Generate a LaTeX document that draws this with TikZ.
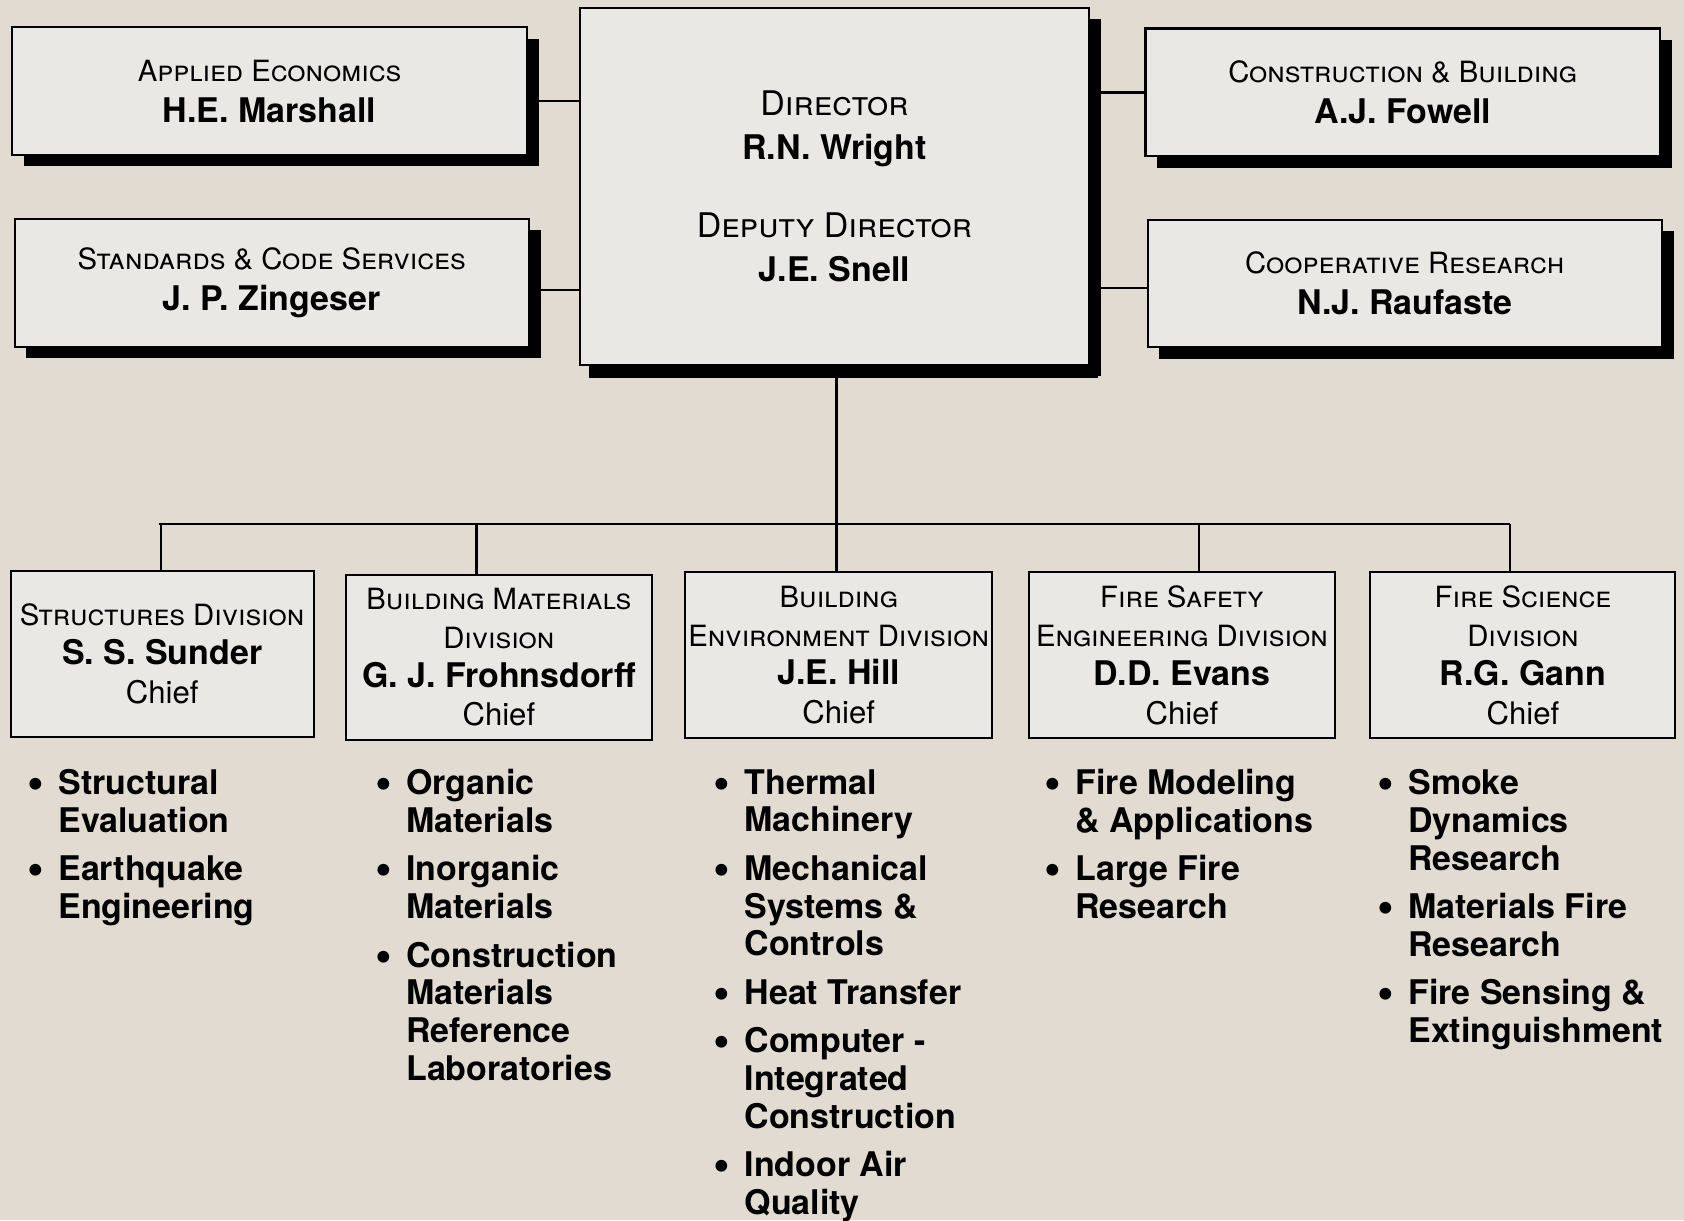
\documentclass[tikz,border=0pt]{standalone}
\usepackage{fontspec}
\setmainfont{TeX Gyre Heros}
\usetikzlibrary{positioning, shadows}

\definecolor{paper}{RGB}{226,219,209}
\definecolor{card}{RGB}{234,232,229}

\newcommand\unitttl[1]{{\fontsize{15.5}{20}\selectfont\scshape #1}}
\newcommand\bossttl[1]{{\fontsize{18}{23}\selectfont\scshape #1}}
\newcommand\who[1]{{\bfseries #1}}
\newcommand\chf{{\fontsize{16.5}{20}\selectfont Chief}}
\newcommand\itm{\llap{\raisebox{-0.12em}{\scalebox{1.4}{\textbullet}}\hspace{0.42em}}}

\begin{document}
\begin{tikzpicture}[
        x=0.02cm, y=0.02cm,
        link/.style={line width=1.3pt},
        boxbase/.style={rectangle, draw=black, line width=1.1pt, fill=card, inner sep=0pt, align=center, font=\fontsize{18}{21.5}\selectfont},
        topbox/.style={boxbase, minimum width=9.58cm, minimum height=2.38cm,
          drop shadow={shadow xshift=0.22cm, shadow yshift=-0.21cm, fill=black, opacity=1}},
        divbox/.style={boxbase, minimum height=3.08cm, font=\fontsize{18}{20.6}\selectfont},
        list/.style={anchor=north west, align=left, inner sep=0pt, font=\fontsize{18}{20}\selectfont\bfseries},
      ]

        \fill[paper] (0,0) rectangle (1568,-1136);
        \useasboundingbox (0,0) rectangle (1568,-1136);

        % staff offices and director
        \node[topbox] (ae)  at (251,-85)    {\unitttl{Applied Economics}\\\who{H.E. Marshall}};
        \node[topbox] (scs) at (253,-263.5) {\unitttl{Standards \& Code Services}\\\who{J. P. Zingeser}};
        \node[topbox, minimum width=9.48cm, minimum height=6.66cm,
              font=\fontsize{18}{23}\selectfont,
              drop shadow={shadow xshift=0.17cm, shadow yshift=-0.24cm, fill=black, opacity=1}]
              (dir) at (777,-173.5) {\bossttl{Director}\\\who{R.N. Wright}\\[0.66cm]\bossttl{Deputy Director}\\\who{J.E. Snell}};
        \node[topbox] (cb)  at (1306,-86)   {\unitttl{Construction \& Building}\\\who{A.J. Fowell}};
        \node[topbox] (cr)  at (1308,-264)  {\unitttl{Cooperative Research}\\\who{N.J. Raufaste}};

        \draw[link] ([yshift=-0.18cm]ae.east)  -- ([yshift=-0.18cm]ae.east -| dir.west);
        \draw[link] ([yshift=-0.13cm]scs.east) -- ([yshift=-0.13cm]scs.east -| dir.west);
        \draw[link] (cb.west) -- (cb.west -| dir.east);
        \draw[link] ([yshift=-0.08cm]cr.west)  -- ([yshift=-0.08cm]cr.west -| dir.east);

        % divisions
        \node[divbox, minimum width=5.64cm] (str)  at (151,-609)    {\unitttl{Structures Division}\\\who{S. S. Sunder}\\\chf};
        \node[divbox, minimum width=5.70cm] (bmd)  at (464.5,-612)  {\unitttl{Building Materials}\\\unitttl{Division}\\\who{G. J. Frohnsdorff}\\\chf};
        \node[divbox, minimum width=5.72cm] (bed)  at (781,-610)    {\unitttl{Building}\\\unitttl{Environment Division}\\\who{J.E. Hill}\\\chf};
        \node[divbox, minimum width=5.70cm] (fsed) at (1100.5,-610) {\unitttl{Fire Safety}\\\unitttl{Engineering Division}\\\who{D.D. Evans}\\\chf};
        \node[divbox, minimum width=5.68cm] (fsd)  at (1418,-610)   {\unitttl{Fire Science}\\\unitttl{Division}\\\who{R.G. Gann}\\\chf};

        \coordinate (bus) at (779,-488);
        \draw[link] ([xshift=0.04cm]dir.south) -- ([xshift=0.04cm]dir.south |- bus);
        \draw[link] ([xshift=-0.06cm]str.north |- bus) -- ([xshift=-0.24cm]fsd.north |- bus);
        \foreach \d/\s in {str/-1, bmd/-21, bed/-2, fsed/16, fsd/-12}
          \draw[link] ([xshift=\s*0.02cm]\d.north) -- ([xshift=\s*0.02cm]\d.north |- bus);

        % programs
        \node[list] (lstr)  at (54,-716)   {\itm Structural\\Evaluation\\[0.2cm]\itm Earthquake\\Engineering};
        \node[list] (lbmd)  at (378,-716)  {\itm Organic\\Materials\\[0.2cm]\itm Inorganic\\Materials\\[0.2cm]\itm Construction\\Materials\\Reference\\Laboratories};
        \node[list] (lbed)  at (693,-716)  {\itm Thermal\\Machinery\\[0.2cm]\itm Mechanical\\Systems \&\\Controls\\[0.2cm]\itm Heat Transfer\\[0.2cm]\itm Computer -\\Integrated\\Construction\\[0.2cm]\itm Indoor Air\\Quality};
        \node[list] (lfsed) at (1001,-716) {\itm Fire Modeling\\\& Applications\\[0.2cm]\itm Large Fire\\Research};
        \node[list] (lfsd)  at (1311,-716) {\itm Smoke\\Dynamics\\Research\\[0.2cm]\itm Materials Fire\\Research\\[0.2cm]\itm Fire Sensing \&\\Extinguishment};
      \end{tikzpicture}
\end{document}
